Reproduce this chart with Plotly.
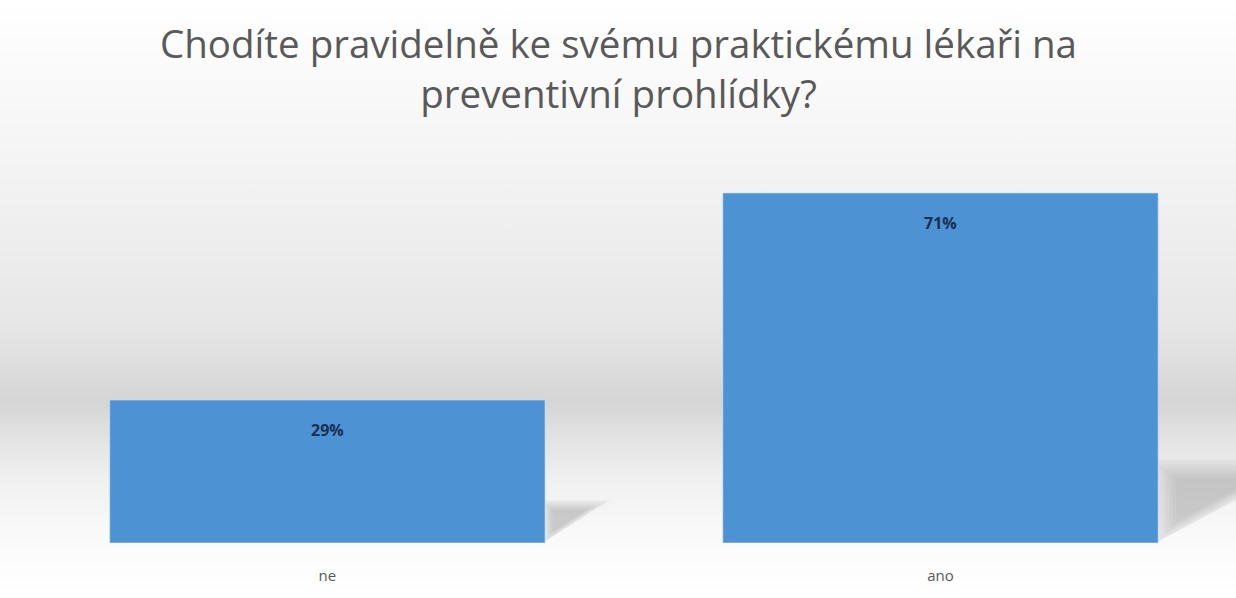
import plotly.graph_objects as go

# Survey answers and their shares (%)
categories = ["ne", "ano"]
shares = [29, 71]
title_text = "Chodíte pravidelně ke svému praktickému lékaři na<br>preventivní prohlídky?"

BAR_WIDTH = 0.71
BAR_COLOR = "#4d92d3"

fig = go.Figure()

# Full-page backdrop: soft grey band fading to white above and below
fig.add_trace(go.Scatter(
    x=[0, 1, 1, 0, 0], y=[0, 0, 1, 1, 0],
    mode="lines", line=dict(width=0), fill="toself",
    fillgradient=dict(
        type="vertical",
        colorscale=[
            [0.0, "#ffffff"],
            [0.09, "#fbfbfb"],
            [0.2, "#f0f0f0"],
            [0.25, "#e6e6e6"],
            [0.33, "#d5d5d5"],
            [0.45, "#e6e6e6"],
            [0.67, "#f1f1f1"],
            [0.83, "#f8f8f8"],
            [1.0, "#ffffff"],
        ],
    ),
    hoverinfo="skip", showlegend=False, xaxis="x", yaxis="y",
))

# Soft perspective shadows trailing up and to the right of each bar,
# built from stacked translucent triangles to fake a blur
for i, v in enumerate(shares):
    right = i + BAR_WIDTH / 2
    h = 2.8 + 0.183 * v
    length = (10.4 * h - 26) / 613
    base = [(right, 0.3), (right, h), (right + length, h)]
    cx = right + length * 0.3
    cy = h * 0.6
    for k in range(9):
        s = 1.2 - 0.08 * k
        pts = [(cx + (px - cx) * s, cy + (py - cy) * s) for px, py in base]
        pts = [(max(px, right), max(py, 0.3)) for px, py in pts]
        path = "M " + " L ".join(f"{px},{py}" for px, py in pts) + " Z"
        fig.add_shape(
            type="path", xref="x2", yref="y2", layer="below",
            path=path, fillcolor="#6f6f6f", opacity=0.045,
            line=dict(width=0),
        )

# The bars
fig.add_trace(go.Bar(
    x=categories, y=shares, width=BAR_WIDTH,
    marker=dict(color=BAR_COLOR, line=dict(width=1, color="rgba(200,225,250,0.6)")),
    hoverinfo="skip", showlegend=False, xaxis="x2", yaxis="y2",
))

# Value labels just inside the top of each bar
for cat, v in zip(categories, shares):
    fig.add_annotation(
        x=cat, y=v, xref="x2", yref="y2", text=f"<b>{v}%</b>",
        showarrow=False, yanchor="middle", yshift=-30,
        font=dict(family="Open Sans", size=16, color="#1c2e52"),
    )

# Two-line chart title
fig.add_annotation(
    text=title_text, xref="paper", yref="paper", x=0.5, y=1 - 68 / 598,
    xanchor="center", yanchor="middle", showarrow=False, align="center",
    font=dict(family="Open Sans", size=38.5, color="#595959"),
)

fig.update_layout(
    width=1236, height=598,
    margin=dict(l=0, r=0, t=0, b=0),
    paper_bgcolor="#ffffff", plot_bgcolor="rgba(0,0,0,0)",
    xaxis=dict(domain=[0, 1], range=[0, 1], visible=False, fixedrange=True),
    yaxis=dict(domain=[0, 1], range=[0, 1], visible=False, fixedrange=True),
    xaxis2=dict(
        domain=[0, 1], range=[-0.534, 1.482], anchor="y2",
        showgrid=False, zeroline=False, showline=False, ticks="",
        ticklabelstandoff=22,
        tickfont=dict(family="Open Sans", size=15, color="#595959"),
    ),
    yaxis2=dict(
        domain=[0.092, 0.7515], range=[0, 80], anchor="x2",
        visible=False, showgrid=False, zeroline=False,
    ),
)

fig.write_html("out.html")
